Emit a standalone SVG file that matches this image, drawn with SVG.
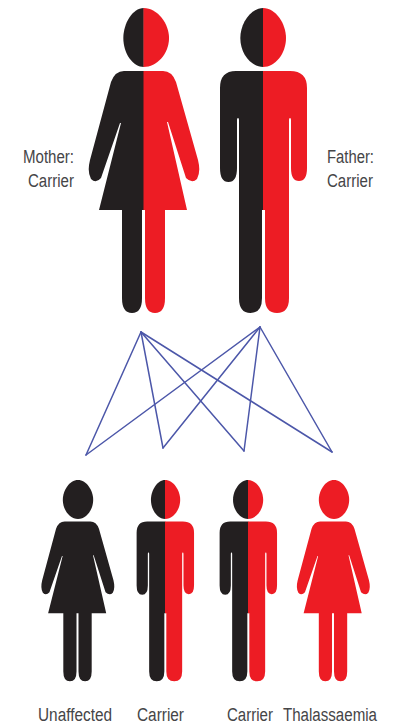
<svg xmlns="http://www.w3.org/2000/svg" width="397" height="728" viewBox="0 0 397 728">
<style>
.k{fill:#231f20}
.r{fill:#ed1c24}
.c line{stroke:#4c57a9;stroke-width:1.5;stroke-linecap:round}
text{font-family:"Liberation Sans",Arial,sans-serif;font-size:18px;fill:#454547}
</style>
<defs>
<path id="head" d="M0 0C-13 0-23 16-23 30C-23 46-12 59 0 59Z"/>
<path id="headw" d="M0 0C-13 0-23 16-23 30C-23 46-12 59 0 59C12 59 23 46 23 30C23 16 13 0 0 0Z"/>
<path id="fl" d="M144 71L124 71Q115 71 111 82L90 160Q87 172 91 179Q96 184 101 178L120 123L121 123L99 210L122 210L122 298Q122 313 132 313Q142 313 142 298L142 210L144 210Z"/>
<path id="fr" d="M143.5 71L163 71Q172 71 176 82L198 160Q201 172 197 179Q192 184 186 178L168 122L167 122L187 210L165 210L165 298Q165 313 155 313Q145 313 145 298L145 210L143.5 210Z"/>
<path id="fw" d="M124 71Q115 71 111 82L90 160Q87 172 91 179Q96 184 101 178L120 123L121 123L99 210L122 210L122 298Q122 313 132 313Q142 313 142 298L142 210L145 210L145 298Q145 313 155 313Q165 313 165 298L165 210L187 210L167 122L168 122L186 178Q192 184 197 179Q201 172 198 160L176 82Q172 71 163 71Z"/>
<path id="ml" d="M263.5 71L236 71Q220 71 220 88L220 168Q220 182 228.5 182Q237 182 237 168L237 120Q237 118 238 118Q239 118 239 120L239 298Q239 313 250.5 313Q262 313 262 298L262 210L263.5 210Z"/>
<path id="mr" d="M263 71L290 71Q307 71 307 88L307 168Q307 181 299 181Q291 181 291 168L291 120Q291 118 290 118Q289 118 289 120L289 298Q289 313 277 313Q265 313 265 298L265 210L263 210Z"/>
</defs>
<g id="connectors" class="c">
<line x1="141" y1="332" x2="86" y2="455"/>
<line x1="141" y1="332" x2="163" y2="448"/>
<line x1="141" y1="332" x2="244" y2="451"/>
<line x1="141" y1="332" x2="332" y2="452"/>
<line x1="260" y1="327" x2="86" y2="455"/>
<line x1="260" y1="327" x2="163" y2="448"/>
<line x1="260" y1="327" x2="244" y2="451"/>
<line x1="260" y1="327" x2="332" y2="452"/>
</g>
<g id="mother">
<use href="#head" class="k" transform="translate(143.8,8) scale(.89,1)"/>
<use href="#head" class="r" transform="translate(143.5,8) scale(-1.11,1)"/>
<use href="#fl" class="k"/>
<use href="#fr" class="r"/>
<text x="23" y="163" textLength="51" lengthAdjust="spacingAndGlyphs">Mother:</text>
<text x="28" y="187" textLength="46" lengthAdjust="spacingAndGlyphs">Carrier</text>
</g>
<g id="father">
<use href="#head" class="k" transform="translate(263.3,8)"/>
<use href="#head" class="r" transform="translate(263,8) scale(-1,1)"/>
<use href="#ml" class="k"/>
<use href="#mr" class="r"/>
<text x="327" y="163" textLength="47" lengthAdjust="spacingAndGlyphs">Father:</text>
<text x="327" y="187" textLength="46" lengthAdjust="spacingAndGlyphs">Carrier</text>
</g>
<g id="child-unaffected">
<use href="#headw" class="k" transform="translate(78,480) scale(.66)"/>
<use href="#fw" class="k" transform="translate(77.5,480) scale(.66) translate(-143.5,-8)"/>
<text x="38" y="721" textLength="74" lengthAdjust="spacingAndGlyphs">Unaffected</text>
</g>
<g id="child-carrier-1">
<use href="#head" class="k" transform="translate(165.2,480) scale(.62,.66)"/>
<use href="#head" class="r" transform="translate(165,480) scale(-.66,.66)"/>
<g transform="translate(165,480) scale(.66) translate(-263,-8)">
<use href="#ml" class="k"/>
<use href="#mr" class="r"/>
</g>
<text x="137" y="721" textLength="47" lengthAdjust="spacingAndGlyphs">Carrier</text>
</g>
<g id="child-carrier-2">
<use href="#head" class="k" transform="translate(248.2,480) scale(.66)"/>
<use href="#head" class="r" transform="translate(248,480) scale(-.66,.66)"/>
<g transform="translate(248,480) scale(.66) translate(-263,-8)">
<use href="#ml" class="k"/>
<use href="#mr" class="r"/>
</g>
<text x="227" y="721" textLength="46" lengthAdjust="spacingAndGlyphs">Carrier</text>
</g>
<g id="child-thalassaemia">
<use href="#headw" class="r" transform="translate(334,480) scale(.66)"/>
<use href="#fw" class="r" transform="translate(333,480) scale(.66) translate(-143.5,-8)"/>
<text x="283" y="721" textLength="94" lengthAdjust="spacingAndGlyphs">Thalassaemia</text>
</g>
</svg>
